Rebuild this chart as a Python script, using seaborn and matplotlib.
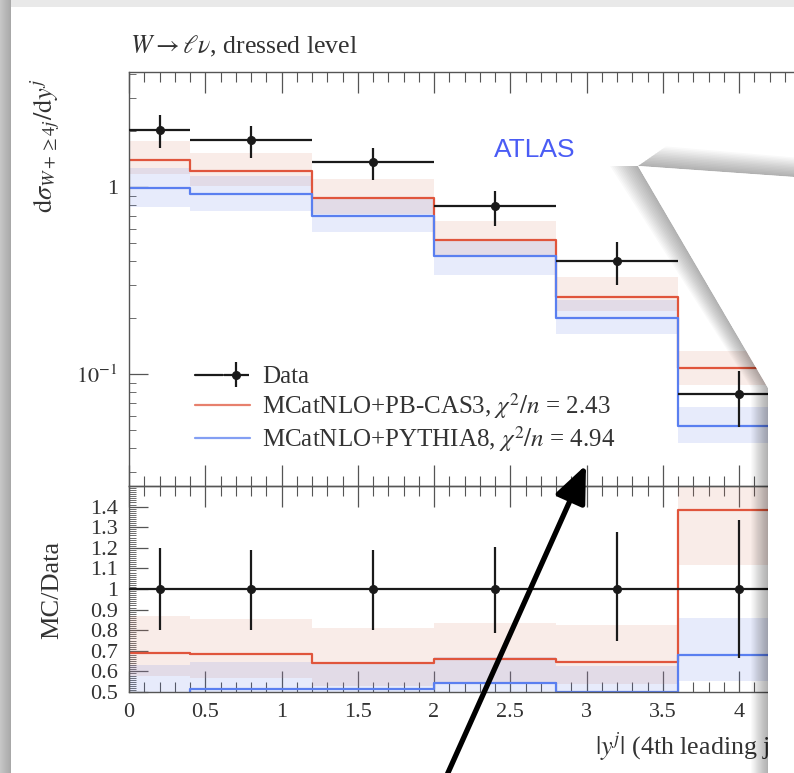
import matplotlib
matplotlib.use("Agg")
import matplotlib.pyplot as plt
import seaborn as sns
import numpy as np
from matplotlib.ticker import MultipleLocator, FixedLocator, FuncFormatter
from matplotlib.lines import Line2D
from matplotlib.patches import Polygon, Rectangle
from matplotlib.legend_handler import HandlerTuple

# Binning in |y^j| of the 4th leading jet
edges = [0.0, 0.4, 1.2, 2.0, 2.8, 3.6, 4.4]
centres = [0.2, 0.8, 1.6, 2.4, 3.2, 4.0]

# Data
data = [2.02, 1.78, 1.36, 0.79, 0.40, 0.078]
data_hi = [2.42, 2.12, 1.62, 0.95, 0.51, 0.104]
data_lo = [1.62, 1.43, 1.09, 0.62, 0.30, 0.052]

# MCatNLO+PB-CAS3 (red) and MCatNLO+PYTHIA8 (blue) with uncertainty bands
red = [1.39, 1.22, 0.87, 0.52, 0.258, 0.108]
red_up = [1.76, 1.52, 1.10, 0.66, 0.33, 0.133]
red_lo = [1.17, 1.01, 0.72, 0.435, 0.216, 0.087]
blue = [0.99, 0.92, 0.70, 0.43, 0.20, 0.053]
blue_up = [1.27, 1.15, 0.87, 0.53, 0.25, 0.067]
blue_lo = [0.78, 0.74, 0.575, 0.34, 0.164, 0.043]

labels = ["Data",
          r"MCatNLO+PB-CAS3, $\chi^2/n$ = 2.43",
          r"MCatNLO+PYTHIA8, $\chi^2/n$ = 4.94"]

RED = "#e0553c"
BLUE = "#5a7ff0"
TXT = "#333333"

sns.set_style("ticks")
plt.rcParams["font.family"] = ["Liberation Serif", "DejaVu Serif"]
plt.rcParams["mathtext.fontset"] = "stix"

W, H = 794, 773
fig = plt.figure(figsize=(W / 100, H / 100), dpi=100)
fig.patch.set_facecolor("white")


def fx(px):
    return px / W


def fy(py):
    return 1 - py / H


ax_left, ax_right = 129, 800
ax = fig.add_axes([fx(ax_left), fy(486), fx(ax_right - ax_left), (486 - 72) / H])
rax = fig.add_axes([fx(ax_left), fy(692), fx(ax_right - ax_left), (692 - 486) / H], sharex=ax)
for a in (ax, rax):
    a.patch.set_alpha(0)


def step(v):
    return list(v) + [v[-1]]


def draw_panel(a, d, dhi, dlo, r, rup, rlo, b, bup, blo):
    a.fill_between(edges, step(rlo), step(rup), step="post", color="#d9826a", alpha=0.15, lw=0)
    a.fill_between(edges, step(blo), step(bup), step="post", color="#5a78e6", alpha=0.14, lw=0)
    sns.lineplot(x=edges, y=step(r), drawstyle="steps-post", color=RED, lw=1.6,
                 estimator=None, sort=False, ax=a)
    sns.lineplot(x=edges, y=step(b), drawstyle="steps-post", color=BLUE, lw=1.6,
                 estimator=None, sort=False, ax=a)
    d = np.array(d)
    yerr = [d - np.array(dlo), np.array(dhi) - d]
    xerr = [np.array(centres) - np.array(edges[:-1]), np.array(edges[1:]) - np.array(centres)]
    return a.errorbar(centres, d, xerr=xerr, yerr=yerr, fmt="o", color="#1a1a1a", ms=5.5,
                      elinewidth=1.6, capsize=0, zorder=5)


data_art = draw_panel(ax, data, data_hi, data_lo, red, red_up, red_lo, blue, blue_up, blue_lo)

# ratio panel: MC / Data
dd = np.array(data)
draw_panel(rax, dd / dd, np.array(data_hi) / dd, np.array(data_lo) / dd,
           np.array(red) / dd, np.array(red_up) / dd, np.array(red_lo) / dd,
           np.array(blue) / dd, np.array(blue_up) / dd, np.array(blue_lo) / dd)

# axes ranges / ticks
ax.set_yscale("log")
ax.set_ylim(0.0252, 4.12)
ax.set_xlim(0, 4.4)
rax.set_ylim(0.5, 1.5)

tick_col = "#555555"
for a in (ax, rax):
    for s in a.spines.values():
        s.set_color(tick_col)
        s.set_linewidth(1.0)
    a.xaxis.set_major_locator(MultipleLocator(0.5))
    a.xaxis.set_minor_locator(MultipleLocator(0.1))
    a.tick_params(axis="x", which="both", direction="in", top=True, bottom=True, colors=tick_col)
    a.tick_params(axis="x", which="major", length=15, width=0.9)
    a.tick_params(axis="x", which="minor", length=7, width=0.8)
    a.tick_params(axis="y", which="both", direction="in", left=True, right=False, colors=tick_col)
    a.tick_params(axis="y", which="major", length=14, width=0.9, pad=8)
    a.tick_params(axis="y", which="minor", length=5, width=0.6)
    a.tick_params(labelcolor=TXT, labelsize=16)
    a.set_xlabel("")
    a.set_ylabel("")

ax.tick_params(axis="x", labelbottom=False)
ax.yaxis.set_major_locator(FixedLocator([0.1, 1]))
ax.set_yticklabels([r"$10^{-1}$", "1"])
ax.yaxis.set_minor_locator(FixedLocator([0.03, 0.04, 0.05, 0.06, 0.07, 0.08, 0.09,
                                         0.2, 0.3, 0.4, 0.5, 0.6, 0.7, 0.8, 0.9, 2, 3, 4]))
ax.yaxis.set_minor_formatter(FuncFormatter(lambda v, p: ""))

rax.yaxis.set_major_locator(FixedLocator(np.round(np.arange(0.5, 1.45, 0.1), 1)))
rax.yaxis.set_minor_locator(MultipleLocator(0.01))
rax.yaxis.set_major_formatter(FuncFormatter(lambda v, p: "%g" % v))
rax.xaxis.set_major_formatter(FuncFormatter(lambda v, p: "%g" % v))
rax.tick_params(axis="x", pad=8)

# legend
data_handle = (Line2D([0], [0], color="#1a1a1a", lw=1.6), data_art)
handles = [
    data_handle,
    Line2D([0], [0], color=RED, lw=1.6, alpha=0.75),
    Line2D([0], [0], color=BLUE, lw=1.6, alpha=0.75),
]
ax.legend(handles, labels, loc="center left",
          bbox_to_anchor=((195 - ax_left) / (ax_right - ax_left), (486 - 410) / 414),
          frameon=False, fontsize=18, handlelength=2.2, handletextpad=0.5,
          labelspacing=0.12, borderpad=0, borderaxespad=0, labelcolor=TXT,
          handler_map={tuple: HandlerTuple(ndivide=None)})

# texts
fig.text(fx(130), fy(46), r"$W \rightarrow \ell\nu$, dressed level", fontsize=18.5,
         va="center", ha="left", color=TXT)
fig.text(fx(535), fy(150), "ATLAS", fontsize=19, color="#4a5cf5", ha="center", va="center",
         family=["Liberation Sans", "DejaVu Sans"])
fig.text(fx(45), fy(146), r"$\mathrm{d}\sigma_{W+\geq 4j}/\mathrm{d}y^j$", rotation=90,
         fontsize=19, ha="center", va="center", color=TXT)
fig.text(fx(52), fy(590), "MC/Data", rotation=90, fontsize=19, ha="center", va="center",
         color=TXT)
fig.text(fx(595), fy(747), r"$|y^j|$ (4th leading jet)", fontsize=18.7, ha="left",
         va="center", color=TXT)

# screenshot frame (background)
bg = fig.add_axes([0, 0, 1, 1], zorder=-5)
bg.set_xlim(0, W)
bg.set_ylim(H, 0)
bg.axis("off")
bg.imshow(np.linspace(0.78, 0.66, 20)[None, :], extent=[0, 11, H, 0], cmap="gray",
          vmin=0, vmax=1, aspect="auto")
bg.add_patch(Rectangle((11, 0), W - 11, 7, color="#e9e9e9", lw=0))
bg.set_xlim(0, W)
bg.set_ylim(H, 0)

# page curl + arrow (overlay)
ov = fig.add_axes([0, 0, 1, 1], zorder=20)
ov.set_xlim(0, W)
ov.set_ylim(H, 0)
ov.axis("off")
ov.patch.set_alpha(0)
tip, corner = (638, 166), (768, 388)
for dpx in range(2, 30, 2):
    ov.add_patch(Polygon([tip, corner, (768, H), (768 - dpx * 0.6, H),
                          (corner[0] - dpx * 0.6, corner[1]), (tip[0] - dpx, tip[1])],
                         closed=True, color="black", alpha=0.025, lw=0))
    ov.add_patch(Polygon([tip, (W, 177), (W, 177 - dpx * 0.7), (tip[0] + dpx, tip[1] - dpx * 0.7)],
                         closed=True, color="black", alpha=0.025, lw=0))
ov.add_patch(Polygon([tip, (W, 177), (W, H), (768, H), corner], closed=True,
                     facecolor="white", edgecolor="none"))
ov.annotate("", xy=(586, 465), xytext=(447, H + 2),
            arrowprops=dict(arrowstyle="-|>,head_length=0.75,head_width=0.32", lw=3.8,
                            color="black", mutation_scale=30, shrinkA=0, shrinkB=0))

fig.savefig("out.png", dpi=100)
